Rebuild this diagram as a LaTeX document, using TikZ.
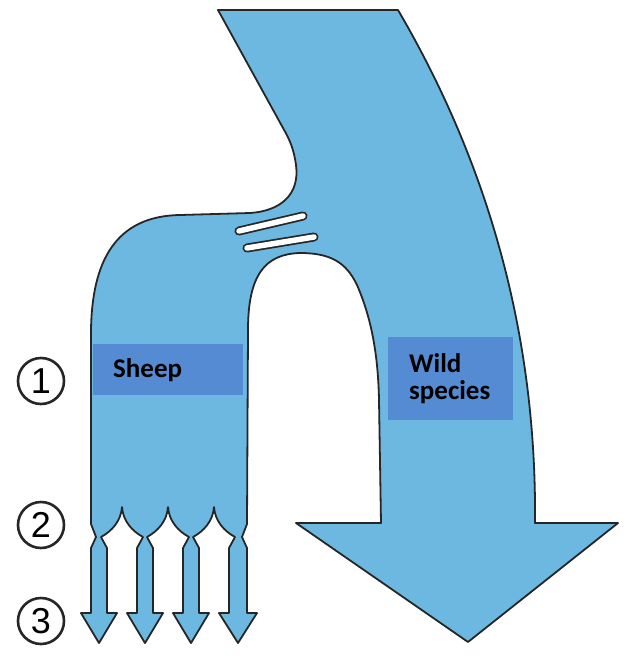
\documentclass[tikz,border=0pt]{standalone}
\usepackage{fontspec}
\setmainfont{Carlito}
\newfontfamily\numfont{Liberation Sans}
\definecolor{flow}{RGB}{108,184,224}
\definecolor{tag}{RGB}{85,139,210}
\tikzset{
  flowline/.style={fill=flow, draw=black!85, line width=1.8pt, line join=round},
  tagbox/.style={fill=tag, anchor=north west, align=left, inner ysep=0pt,
    font=\bfseries\fontsize{27}{29}\selectfont},
  stage/.style={circle, draw=black!85, line width=2.6pt, minimum size=46pt, inner sep=0pt,
    font=\numfont\fontsize{36}{36}\selectfont}
}
\begin{document}
\begin{tikzpicture}[x=1pt,y=-1pt]
  \useasboundingbox (0,0) rectangle (625,656);
  \draw[flowline] (218,10) -- (398,10)
    .. controls (480,150) and (537,320) .. (535,523)
    -- (618,523) -- (468,642) -- (296,523) -- (381,523)
    -- (379,400) .. controls (378,350) and (370,315) .. (357,285)
    .. controls (346,262) and (330,253) .. (300,253)
    .. controls (265,254) and (248,275) .. (248,330)
    -- (247,524) -- (242,537) -- (247,548) -- (247,613) -- (257,613) -- (238,643)
    -- (219,613) -- (229,613) -- (229,548) -- (235,537)
    .. controls (224,531) and (215,521) .. (214,507)
    .. controls (213,521) and (204,531) .. (193,537)
    -- (199,548) -- (199,613) -- (209,613) -- (191,643) -- (173,613) -- (183,613)
    -- (183,548) -- (189,537)
    .. controls (178,531) and (169,521) .. (168,507)
    .. controls (167,521) and (158,531) .. (147,537)
    -- (153,548) -- (153,613) -- (163,613) -- (145,643) -- (127,613) -- (137,613)
    -- (137,548) -- (143,537)
    .. controls (132,531) and (123,521) .. (122,507)
    .. controls (121,521) and (112,531) .. (101,537)
    -- (107,548) -- (107,613) -- (117,613) -- (99,643) -- (81,613) -- (91,613)
    -- (91,548) -- (96,537) -- (91,524)
    -- (91,330) .. controls (92,262) and (115,216) .. (180,215) -- (250,213)
    .. controls (280,211) and (300,195) .. (296,165)
    .. controls (294,150) and (290,140) .. (283,128) -- cycle;
  \draw[line width=9pt, line cap=round, black!85] (239,231) -- (303,216);
  \draw[line width=5.5pt, line cap=round, white] (239,231) -- (303,216);
  \draw[line width=9pt, line cap=round, black!85] (247,248) -- (314,237);
  \draw[line width=5.5pt, line cap=round, white] (247,248) -- (314,237);
  \node[tagbox, inner xsep=20pt, text width=110pt, minimum height=51pt] (sheep) at (93,344) {\raisebox{-3pt}{Sheep}};
  \node[tagbox, inner xsep=21pt, text width=83pt, minimum height=83pt] (wild) at (388,337) {\raisebox{-2pt}{Wild}\\species};
  \node[stage] (n1) at (41,381) {1};
  \node[stage] (n2) at (41,525) {2};
  \node[stage] (n3) at (41,621) {3};
\end{tikzpicture}
\end{document}
